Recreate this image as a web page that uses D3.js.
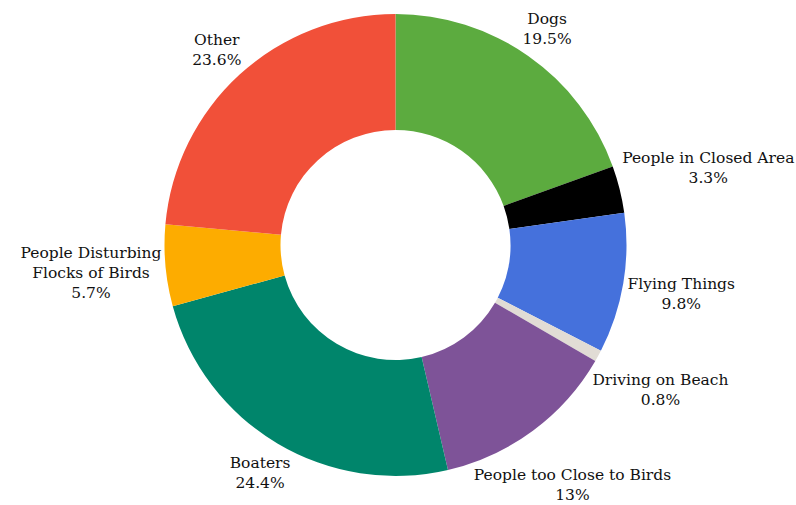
<!DOCTYPE html>
<html>
<head>
<meta charset="utf-8">
<script src="https://cdn.jsdelivr.net/npm/d3@7"></script>
<style>
  html, body { margin: 0; padding: 0; background: #fff; }
  svg text { font-family: "DejaVu Serif", "Liberation Serif", serif; font-size: 15.5px; fill: #111; }
</style>
</head>
<body>
<svg id="chart" width="796" height="505"></svg>
<script>
// Disturbance categories, share of reports (%), slice colours
const categories = ["Dogs", "People in Closed Area", "Flying Things", "Driving on Beach",
                    "People too Close to Birds", "Boaters", "People Disturbing Flocks of Birds", "Other"];
const values = [19.5, 3.3, 9.8, 0.8, 13, 24.4, 5.7, 23.6];
const valueLabels = ["19.5%", "3.3%", "9.8%", "0.8%", "13%", "24.4%", "5.7%", "23.6%"];
const labelLines = [["Dogs"], ["People in Closed Area"], ["Flying Things"], ["Driving on Beach"],
                    ["People too Close to Birds"], ["Boaters"], ["People Disturbing", "Flocks of Birds"], ["Other"]];
const colors = ["#5cab3f", "#000000", "#4571dc", "#e1dcd5", "#7e5398", "#00856b", "#fdac00", "#f15039"];

const width = 796, height = 505;
const cx = 395.5, cy = 245;
const outerR = 231, innerR = 115;
const labelClear = 234;   // labels keep their nearest edge this far from the centre
const lineH = 20;

const data = categories.map((c, i) => ({ name: c, value: values[i], lines: labelLines[i].concat([valueLabels[i]]), color: colors[i] }));

const svg = d3.select("#chart");
const g = svg.append("g").attr("transform", `translate(${cx},${cy})`);

const pie = d3.pie().value(d => d.value).sort(null);
const arc = d3.arc().innerRadius(innerR).outerRadius(outerR);
const arcs = pie(data);

g.selectAll("path.slice")
  .data(arcs)
  .join("path")
  .attr("class", "slice")
  .attr("d", arc)
  .attr("fill", d => d.data.color);

// Labels: centred on the slice's mid-angle ray, pushed out until the text box clears the ring
const labels = g.selectAll("g.label")
  .data(arcs)
  .join("g")
  .attr("class", "label");

labels.each(function(d) {
  const lg = d3.select(this);
  const n = d.data.lines.length;
  const t = lg.append("text").attr("text-anchor", "middle");
  d.data.lines.forEach((ln, i) => {
    t.append("tspan")
      .attr("x", 0)
      .attr("y", (i - (n - 1) / 2) * lineH)
      .attr("dy", "0.35em")
      .text(ln);
  });
  const bb = t.node().getBBox();
  const hw = bb.width / 2;
  const top = bb.y, bottom = bb.y + bb.height;
  const a = (d.startAngle + d.endAngle) / 2;
  const ux = Math.sin(a), uy = -Math.cos(a);
  // nearest distance from the centre to the box placed with its centre at distance r
  const nearest = r => {
    const px = r * ux, py = r * uy;
    const x0 = px - hw, x1 = px + hw, y0 = py + top, y1 = py + bottom;
    const qx = Math.max(x0, Math.min(0, x1));
    const qy = Math.max(y0, Math.min(0, y1));
    return Math.hypot(qx, qy);
  };
  let lo = 0, hi = 600;
  for (let k = 0; k < 40; k++) {
    const mid = (lo + hi) / 2;
    if (nearest(mid) < labelClear) lo = mid; else hi = mid;
  }
  lg.attr("transform", `translate(${hi * ux},${hi * uy})`);
});
</script>
</body>
</html>
